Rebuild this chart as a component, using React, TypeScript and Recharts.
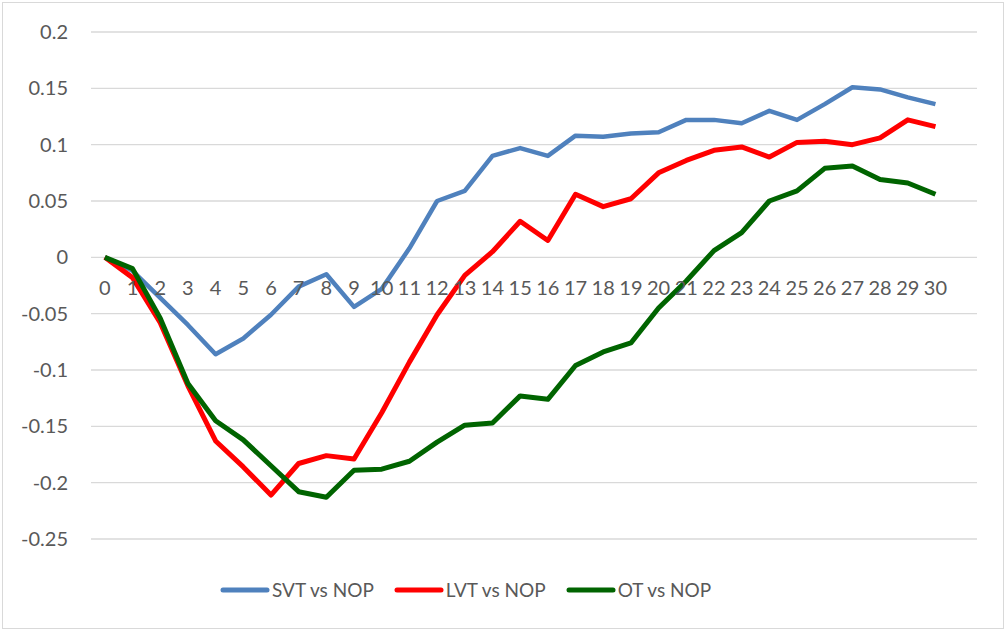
import React from 'react';
import { LineChart, Line, XAxis, YAxis, CartesianGrid, Legend, ReferenceDot } from 'recharts';

const categories = [0, 1, 2, 3, 4, 5, 6, 7, 8, 9, 10, 11, 12, 13, 14, 15, 16, 17, 18, 19, 20, 21, 22, 23, 24, 25, 26, 27, 28, 29, 30];

const svtVsNop = [0, -0.012, -0.036, -0.06, -0.086, -0.072, -0.051, -0.026, -0.015, -0.044, -0.028, 0.008, 0.05, 0.059, 0.09, 0.097, 0.09, 0.108, 0.107, 0.11, 0.111, 0.122, 0.122, 0.119, 0.13, 0.122, 0.136, 0.151, 0.149, 0.142, 0.136];
const lvtVsNop = [0, -0.018, -0.058, -0.114, -0.163, -0.186, -0.211, -0.183, -0.176, -0.179, -0.138, -0.093, -0.051, -0.016, 0.005, 0.032, 0.015, 0.056, 0.045, 0.052, 0.075, 0.086, 0.095, 0.098, 0.089, 0.102, 0.103, 0.1, 0.106, 0.122, 0.116];
const otVsNop = [0, -0.01, -0.054, -0.112, -0.145, -0.162, -0.185, -0.208, -0.213, -0.189, -0.188, -0.181, -0.164, -0.149, -0.147, -0.123, -0.126, -0.096, -0.084, -0.076, -0.045, -0.021, 0.006, 0.022, 0.05, 0.059, 0.079, 0.081, 0.069, 0.066, 0.056];

const yTicks = [-0.25, -0.2, -0.15, -0.1, -0.05, 0, 0.05, 0.1, 0.15, 0.2];
const seriesNames = ['SVT vs NOP', 'LVT vs NOP', 'OT vs NOP'];

const data = categories.map((c, i) => ({
  x: c,
  svt: svtVsNop[i],
  lvt: lvtVsNop[i],
  ot: otVsNop[i],
}));

const FONT = 'Lato, "Liberation Sans", Arial, sans-serif';
const TEXT = '#595959';

const renderLegend = (props: any) => {
  const payload = [...(props.payload || [])].sort(
    (a: any, b: any) => seriesNames.indexOf(a.value) - seriesNames.indexOf(b.value)
  );
  return (
    <div style={{ display: 'flex', alignItems: 'center', fontFamily: FONT }}>
      {payload.map((e: any, i: number) => (
        <div key={i} style={{ display: 'flex', alignItems: 'center', marginRight: 20 }}>
          <svg width={50} height={10} style={{ display: 'block' }}>
            <line x1={3} y1={5} x2={47} y2={5} stroke={e.color} strokeWidth={5} strokeLinecap="round" />
          </svg>
          <span style={{ color: TEXT, fontSize: 19, marginLeft: 2, lineHeight: '24px', whiteSpace: 'nowrap' }}>{e.value}</span>
        </div>
      ))}
    </div>
  );
};

export default function App() {
  return (
    <div style={{ position: 'absolute', left: 0, top: 0, width: 1006, height: 630, background: '#fff' }}>
      <div style={{ position: 'absolute', left: 2, top: 2, width: 1000, height: 625, border: '1px solid #d9d9d9' }} />
      <div style={{ position: 'absolute', left: 0, top: 0 }}>
        <LineChart width={1006} height={630} data={data} margin={{ top: 32, right: 29, bottom: 91, left: 0 }}>
          <CartesianGrid vertical={false} stroke="#d9d9d9" strokeWidth={1.3} />
          <XAxis dataKey="x" type="number" domain={[-0.5, 31.5]} ticks={categories} hide />
          <YAxis
            type="number"
            domain={[-0.25, 0.2]}
            ticks={yTicks}
            width={91}
            axisLine={false}
            tickLine={false}
            tickMargin={17}
            tick={{ fill: TEXT, fontSize: 20, fontFamily: FONT }}
            tickFormatter={(v: number) => String(v)}
          />
          {categories.map((c) => (
            <ReferenceDot
              key={c}
              x={c}
              y={0}
              r={0}
              fill="none"
              stroke="none"
              label={{ value: String(c), position: 'bottom', offset: 23, fill: TEXT, fontSize: 20, fontFamily: FONT }}
            />
          ))}
          <Line type="linear" dataKey="svt" name={seriesNames[0]} stroke="#4F81BD" strokeWidth={4.5} dot={false} strokeLinejoin="round" isAnimationActive={false} />
          <Line type="linear" dataKey="lvt" name={seriesNames[1]} stroke="#FF0000" strokeWidth={5} dot={false} strokeLinejoin="round" isAnimationActive={false} />
          <Line type="linear" dataKey="ot" name={seriesNames[2]} stroke="#006400" strokeWidth={5} dot={false} strokeLinejoin="round" isAnimationActive={false} />
          <Legend verticalAlign="middle" align="center" layout="horizontal" content={renderLegend} wrapperStyle={{ top: 578, left: 220, width: 'auto' }} />
        </LineChart>
      </div>
    </div>
  );
}
